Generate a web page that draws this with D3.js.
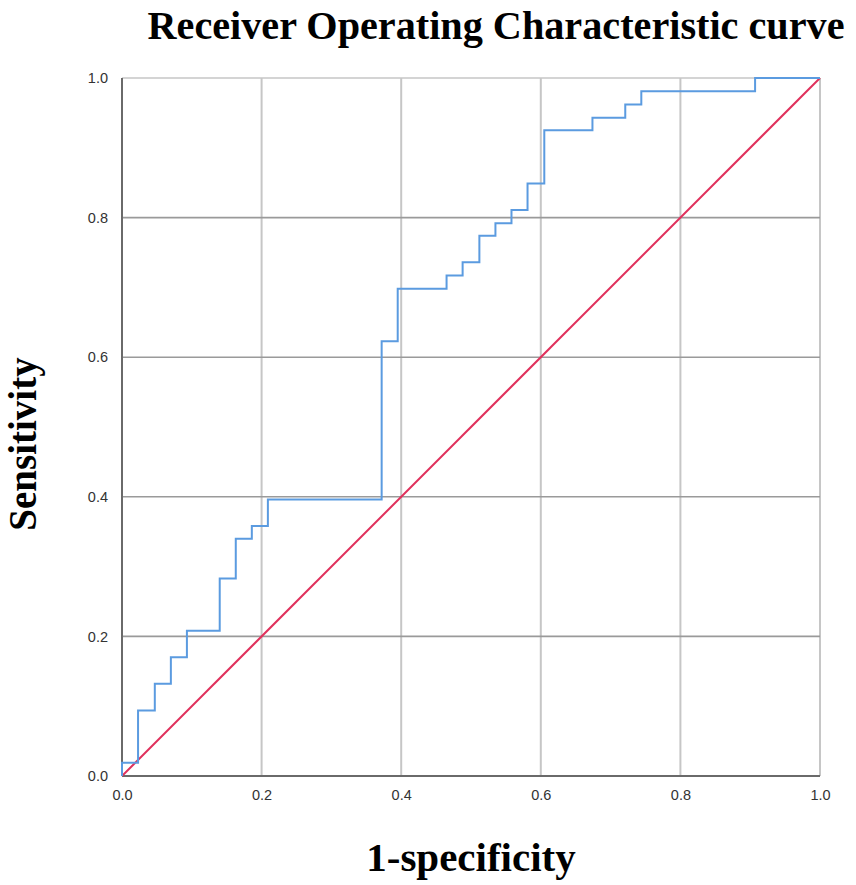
<!DOCTYPE html>
<html lang="en">
<head>
<meta charset="utf-8">
<title>ROC curve</title>
<script src="https://cdn.jsdelivr.net/npm/d3@7"></script>
<style>
  body { margin: 0; background: #fff; }
  .ttl { font-family: "Liberation Serif", "Times New Roman", serif; font-weight: bold; fill: #000; }
</style>
</head>
<body>
<script>
// ROC points (corner of each step)
var fpr = [0, 0, 0.023, 0.047, 0.070, 0.093, 0.140, 0.163, 0.186, 0.209, 0.372, 0.395,
           0.465, 0.488, 0.512, 0.535, 0.558, 0.581, 0.605, 0.674, 0.721, 0.744, 0.907, 1.0];
var sens = [0, 0.019, 0.094, 0.132, 0.170, 0.208, 0.283, 0.340, 0.358, 0.396, 0.623, 0.698,
            0.717, 0.736, 0.774, 0.792, 0.811, 0.849, 0.925, 0.943, 0.962, 0.981, 1.0, 1.0];
var refLine = [0, 1];
var ticks = [0, 0.2, 0.4, 0.6, 0.8, 1.0];

var W = 856, H = 885;
var m = { left: 122, right: 820, top: 78, bottom: 776 };

var svg = d3.select("body").append("svg")
    .attr("width", W)
    .attr("height", H);

var x = d3.scaleLinear().domain([0, 1]).range([m.left, m.right]);
var y = d3.scaleLinear().domain([0, 1]).range([m.bottom, m.top]);

// grid
svg.append("g").selectAll("line")
    .data(ticks.slice(1))
    .enter().append("line")
    .attr("x1", function(d) { return x(d); })
    .attr("x2", function(d) { return x(d); })
    .attr("y1", y(0))
    .attr("y2", y(1))
    .attr("stroke", "#c6c6c6")
    .attr("stroke-width", 2);

svg.append("g").selectAll("line")
    .data(ticks.slice(1))
    .enter().append("line")
    .attr("x1", x(0))
    .attr("x2", x(1))
    .attr("y1", function(d) { return y(d); })
    .attr("y2", function(d) { return y(d); })
    .attr("stroke", function(d) { return d === 1 ? "#c6c6c6" : "#9a9a9a"; })
    .attr("stroke-width", 1.6);

// axes
var xAxis = d3.axisBottom(x).tickValues(ticks).tickFormat(d3.format(".1f")).tickSize(0).tickPadding(14);
var yAxis = d3.axisLeft(y).tickValues(ticks).tickFormat(d3.format(".1f")).tickSize(0).tickPadding(14);

var gx = svg.append("g").attr("transform", "translate(0," + m.bottom + ")").call(xAxis);
var gy = svg.append("g").attr("transform", "translate(" + m.left + ",0)").call(yAxis);
[gx, gy].forEach(function(g) {
    g.select(".domain").remove();
    g.attr("font-family", "'Liberation Sans', Arial, sans-serif").attr("font-size", 14.5);
    g.selectAll("text").attr("fill", "#333");
});

svg.append("line")
    .attr("x1", x(0)).attr("x2", x(1))
    .attr("y1", y(0)).attr("y2", y(0))
    .attr("stroke", "#6a6a6a").attr("stroke-width", 2);
svg.append("line")
    .attr("x1", x(0)).attr("x2", x(0))
    .attr("y1", y(0)).attr("y2", y(1))
    .attr("stroke", "#6a6a6a").attr("stroke-width", 2);

// reference diagonal
svg.append("path")
    .datum(refLine)
    .attr("d", d3.line().x(function(d) { return x(d); }).y(function(d) { return y(d); }))
    .attr("fill", "none")
    .attr("stroke", "#e0305c")
    .attr("stroke-width", 2);

// ROC curve
var pts = fpr.map(function(f, i) { return [f, sens[i]]; });
svg.append("path")
    .datum(pts)
    .attr("d", d3.line()
        .x(function(d) { return x(d[0]); })
        .y(function(d) { return y(d[1]); })
        .curve(d3.curveStepAfter))
    .attr("fill", "none")
    .attr("stroke", "#5b9be0")
    .attr("stroke-width", 2);

// titles
svg.append("text")
    .attr("class", "ttl")
    .attr("x", 496).attr("y", 39)
    .attr("text-anchor", "middle")
    .attr("font-size", 39)
    .attr("textLength", 697)
    .attr("lengthAdjust", "spacingAndGlyphs")
    .text("Receiver Operating Characteristic curve");

svg.append("text")
    .attr("class", "ttl")
    .attr("x", 471).attr("y", 871)
    .attr("text-anchor", "middle")
    .attr("font-size", 41)
    .text("1-specificity");

svg.append("text")
    .attr("class", "ttl")
    .attr("transform", "translate(36,444) rotate(-90)")
    .attr("text-anchor", "middle")
    .attr("font-size", 39)
    .text("Sensitivity");
</script>
</body>
</html>
